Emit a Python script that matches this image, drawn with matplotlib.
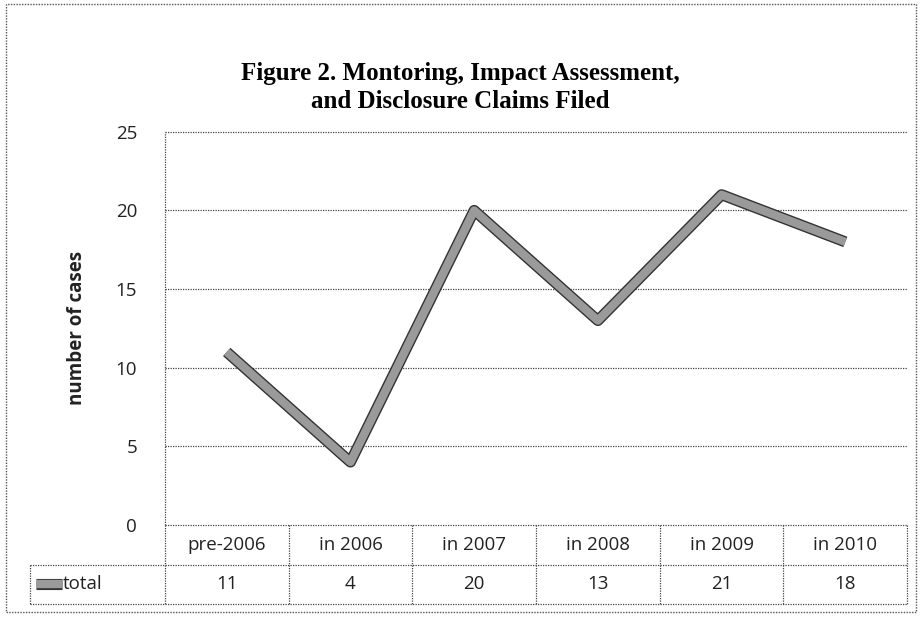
import matplotlib.pyplot as plt
import matplotlib.patheffects as pe
from matplotlib.patches import Rectangle

categories = ['pre-2006', 'in 2006', 'in 2007', 'in 2008', 'in 2009', 'in 2010']
totals = [11, 4, 20, 13, 21, 18]
series_name = 'total'
yticks = [0, 5, 10, 15, 20, 25]

fig = plt.figure(figsize=(9.21, 6.19), dpi=100)
fig.patch.set_facecolor('white')

# outer dotted frame
fig.add_artist(Rectangle((0.006, 0.011), 0.989, 0.982, transform=fig.transFigure,
                         fill=False, edgecolor='#555555', linewidth=1, linestyle=(0, (1, 1))))

ax = fig.add_axes([0.179, 0.152, 0.806, 0.635])
x = list(range(len(categories)))
ax.plot(x, totals, color='#9a9a9a', linewidth=6, solid_capstyle='butt',
        path_effects=[pe.Stroke(linewidth=8, foreground='#333333'), pe.Normal()], zorder=3)

ax.set_xlim(-0.5, len(categories) - 0.5)
ax.set_ylim(0, 25)
ax.set_yticks(yticks)
ax.set_yticklabels([str(t) for t in yticks], fontsize=13.5, family='Open Sans', color='#222222')
ax.tick_params(axis='y', length=0, pad=20)
ax.set_xticks([])
for s in ax.spines.values():
    s.set_visible(False)

dots = dict(color='#444444', linewidth=0.9, linestyle=(0, (1, 1)), clip_on=False,
            transform=ax.transAxes)
# gridlines and plot frame (dotted)
for t in yticks[1:]:
    ax.plot([0, 1], [t / 25, t / 25], **dots)
ax.plot([0, 0], [0, 1], **dots)

ax.set_ylabel('number of cases', fontsize=13.5, fontweight='bold', family='Open Sans',
              color='#222222')
ax.yaxis.set_label_coords(-0.105, 0.5)

fig.text(0.5, 0.859, 'Figure 2. Montoring, Impact Assessment,\nand Disclosure Claims Filed',
         ha='center', va='center', fontsize=18, fontweight='bold', family='Liberation Serif',
         linespacing=1.3)

# data table below the axes
row_h = 0.101  # in axes fraction
n = len(categories)
leg_left = -0.182
ax.plot([0, 1], [0, 0], **dots)
ax.plot([leg_left, 1], [-row_h, -row_h], **dots)
ax.plot([leg_left, 1], [-2 * row_h, -2 * row_h], **dots)
for i in range(n + 1):
    ax.plot([i / n, i / n], [0, -2 * row_h], **dots)
ax.plot([leg_left, leg_left], [-row_h, -2 * row_h], **dots)

for i, (c, v) in enumerate(zip(categories, totals)):
    xc = (i + 0.5) / n
    ax.text(xc, -0.5 * row_h, c, transform=ax.transAxes, ha='center', va='center',
            fontsize=13.5, family='Open Sans', color='#222222')
    ax.text(xc, -1.5 * row_h, str(v), transform=ax.transAxes, ha='center', va='center',
            fontsize=13.5, family='Open Sans', color='#222222')

# legend key in the row label cell
ax.plot([-0.174, -0.139], [-1.5 * row_h, -1.5 * row_h], color='#9a9a9a', linewidth=6,
        solid_capstyle='butt', transform=ax.transAxes, clip_on=False,
        path_effects=[pe.Stroke(linewidth=8, foreground='#333333'), pe.Normal()])
ax.text(-0.137, -1.5 * row_h, series_name, transform=ax.transAxes, ha='left', va='center',
        fontsize=13.5, family='Open Sans', color='#222222')

fig.savefig('out.png', dpi=100)
